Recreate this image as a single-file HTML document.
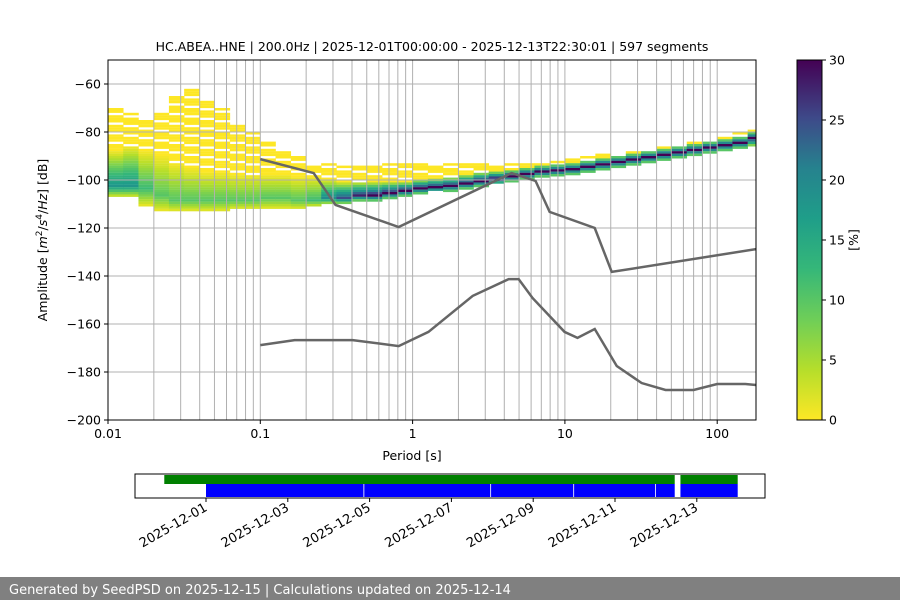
<!DOCTYPE html>
<html><head><meta charset="utf-8"><style>
body{margin:0;background:#fff;width:900px;height:600px;overflow:hidden;font-family:"DejaVu Sans","Liberation Sans",sans-serif}
svg text{font-family:"DejaVu Sans","Liberation Sans",sans-serif;fill:#000}
</style></head><body>
<svg id="chart" width="900" height="600">
<defs>
<linearGradient id="vir" x1="0" y1="1" x2="0" y2="0">
<stop offset="0" stop-color="#fde725"/><stop offset="0.14" stop-color="#b5de2b"/><stop offset="0.28" stop-color="#6ece58"/><stop offset="0.42" stop-color="#35b779"/><stop offset="0.56" stop-color="#1f9e89"/><stop offset="0.7" stop-color="#26828e"/><stop offset="0.84" stop-color="#3e4989"/><stop offset="1" stop-color="#440154"/>
</linearGradient>
<clipPath id="pc"><rect x="108" y="60" width="648" height="360"/></clipPath>
</defs>
<text x="432" y="51" font-size="12.5" text-anchor="middle">HC.ABEA..HNE | 200.0Hz | 2025-12-01T00:00:00 - 2025-12-13T22:30:01 | 597 segments</text>
<g id="heat" clip-path="url(#pc)"></g>
<g id="grid"></g>
<g id="models" clip-path="url(#pc)"></g>
<rect x="108" y="60" width="648" height="360" fill="none" stroke="#000" stroke-width="1"/>
<g id="axes"></g>
<text x="412" y="460" font-size="12.5" text-anchor="middle">Period [s]</text>
<text transform="translate(47,240) rotate(-90)" font-size="12.5" text-anchor="middle">Amplitude [<tspan font-style="italic">m</tspan><tspan font-size="9" dy="-5">2</tspan><tspan dy="5">/</tspan><tspan font-style="italic">s</tspan><tspan font-size="9" dy="-5">4</tspan><tspan dy="5">/</tspan><tspan font-style="italic">Hz</tspan>] [dB]</text>
<rect x="797" y="60" width="25" height="360" fill="url(#vir)" stroke="#000" stroke-width="1"/>
<g id="cbar"></g>
<text transform="translate(858,240) rotate(-90)" font-size="12.5" text-anchor="middle">[%]</text>
<g id="timeline"></g>
<rect x="0" y="577" width="900" height="23" fill="#808080"/>
<text x="9" y="594" font-size="13" style="fill:#fff">Generated by SeedPSD on 2025-12-15 | Calculations updated on 2025-12-14</text>
</svg>
<script>
// ---- data ----
const colLogStart = -2, colLogStep = 0.1;
const modeDb = [-102,-102,-103,-106,-108,-108,-108,-108,-108,-108,-107,-107,-108,-108,-107,-107,-106,-106,-105,-104,-103,-102.5,-102,-101,-100,-99,-98,-97,-96,-95.5,-95,-94,-93,-92,-91,-90,-89,-88,-87,-86,-85,-84,-82];
const lowDb = [-106,-106,-110,-112,-112,-112,-112,-112,-111,-111,-111,-111,-111,-110,-109,-109,-108,-108,-107,-106,-105,-104,-104,-103,-102,-101,-100,-99,-98,-97.5,-97,-96,-95,-94,-93,-92,-91,-90,-89,-88,-87,-86,-85];
const highDb = [-88,-86,-88,-90,-93,-95,-97,-97,-98,-98,-98,-98,-99,-99,-100,-101,-101,-101,-101,-101,-100,-99.5,-99,-98,-97,-96.5,-96,-95,-94,-93.5,-93,-92,-91,-90,-89,-88,-87,-86,-85,-84,-83,-82,-80];
const sparseTopDb = [-70,-72,-74,-72,-64,-62,-66,-70,-76,-80,-84,-88,-90,-93,-93,-94,-94,-94,-93,-93,-93,-93,-93,-93,-93,-93,-93,-93,-92,-92,-91,-90,-89,-89,-88,-87,-86,-85,-84,-83,-82,-80,-78];
const peakPct = [18,18,12,10,10,10,10,10,10,10,10,10,10,12,20,25,28,30,30,30,30,30,30,30,30,30,30,30,30,30,30,30,30,30,30,30,30,30,30,30,30,30,30];
const nhnmPeriod = [0.1,0.224,0.312,0.81,4.47,6.42,7.94,15.7,20.3,180];
const nhnmDb = [-91.3,-97.1,-110.4,-119.6,-97.1,-100.4,-113.3,-120,-138.3,-128.8];
const nlnmPeriod = [0.1,0.168,0.404,0.81,1.27,2.48,4.27,4.97,6.14,9.95,12.1,15.7,21.9,31.9,45.8,70,100,153,180];
const nlnmDb = [-168.8,-166.7,-166.7,-169.2,-163.3,-148.3,-141.3,-141.3,-149.2,-163.3,-165.8,-162.1,-177.5,-184.6,-187.5,-187.5,-185,-185,-185.4];
const xTicks = [0.01,0.1,1,10,100];
const xTickLabels = ["0.01","0.1","1","10","100"];
const yTicks = [-60,-80,-100,-120,-140,-160,-180,-200];
const cTicks = [0,5,10,15,20,25,30];
const dateTicks = ["2025-12-01","2025-12-03","2025-12-05","2025-12-07","2025-12-09","2025-12-11","2025-12-13"];
const greenSpans = [[-1.02,11.46],[11.6,13.0]];
const blueSpans = [[0,3.85],[3.87,6.95],[6.97,8.98],[9.0,10.98],[11.0,11.46],[11.6,13.0]];

// ---- scales ----
const NS='http://www.w3.org/2000/svg';
const X=p=>108+(Math.log10(p)+2)*152.3;
const Y=d=>60+(-50-d)*2.4;
const C=v=>420-v/30*360;
const T=day=>206+day*40.9;
function mk(tag,at,par){const e=document.createElementNS(NS,tag);for(const k in at)e.setAttribute(k,at[k]);par.appendChild(e);return e;}
const vstops=[[0,[253,231,37]],[0.14,[181,222,43]],[0.28,[110,206,88]],[0.42,[53,183,121]],[0.56,[31,158,137]],[0.7,[38,130,142]],[0.84,[62,73,137]],[1,[68,1,84]]];
function vir(t){t=Math.max(0,Math.min(1,t));for(let i=1;i<vstops.length;i++){if(t<=vstops[i][0]){const a=vstops[i-1],b=vstops[i],f=(t-a[0])/(b[0]-a[0]);return 'rgb('+a[1].map((v,j)=>Math.round(v+(b[1][j]-v)*f)).join(',')+')';}}return 'rgb(68,1,84)';}

// heatmap
const heat=document.getElementById('heat');
for(let i=0;i<modeDb.length;i++){
  const x0=X(Math.pow(10,colLogStart+colLogStep*i)), x1=X(Math.pow(10,colLogStart+colLogStep*(i+1)));
  for(let d=Math.ceil(sparseTopDb[i]);d>highDb[i];d--){
    if((i*7+d*3)%4===0)continue;
    const r=mk('rect',{x:x0,y:Y(d),width:x1-x0+0.3,height:2.5,fill:'#fde725'},heat);
    
    
  }
  for(let d=highDb[i];d>=lowDb[i];d-=1){
    const span=d>modeDb[i]?(highDb[i]-modeDb[i]+1):(modeDb[i]-lowDb[i]+1);
    const pct=peakPct[i]*Math.max(0.05,1-Math.abs(d-modeDb[i])/span);
    const r=mk('rect',{x:x0,y:Y(d),width:x1-x0+0.3,height:2.5,fill:vir(pct/30)},heat);
    
    
  }
}
// grid
const grid=document.getElementById('grid');
for(let e=-2;e<=2;e++)for(let m=1;m<=9;m++){const p=m*Math.pow(10,e);const x=X(p);if(x<=108.5||x>=756)continue;
  const l=mk('line',{x1:x,x2:x,y1:60,y2:420,stroke:'#b0b0b0','stroke-width':1},grid);
  
  }
yTicks.forEach(v=>{const l=mk('line',{x1:108,x2:756,y1:Y(v),y2:Y(v),stroke:'#b0b0b0','stroke-width':1},grid);
  
  });
// models
const models=document.getElementById('models');
function poly(ps,ds,name){const pl=mk('polyline',{points:ps.map((p,i)=>X(p)+','+Y(ds[i])).join(' '),fill:'none',stroke:'#666','stroke-width':2.5},models);
  
  }
poly(nhnmPeriod,nhnmDb,'nhnm-line');poly(nlnmPeriod,nlnmDb,'nlnm-line');
// axes ticks
const axes=document.getElementById('axes');
xTicks.forEach((p,i)=>{const x=X(p);mk('line',{x1:x,x2:x,y1:420,y2:424,stroke:'#000'},axes);
  const t=mk('text',{x:x,y:438,'font-size':12.5,'text-anchor':'middle'},axes);t.textContent=xTickLabels[i];
  
  });
yTicks.forEach(v=>{const y=Y(v);mk('line',{x1:104,x2:108,y1:y,y2:y,stroke:'#000'},axes);
  const t=mk('text',{x:101,y:y+4.5,'font-size':12.5,'text-anchor':'end'},axes);t.textContent='\u2212'+Math.abs(v);
  
  });
const cb=document.getElementById('cbar');
cTicks.forEach(v=>{const y=C(v);mk('line',{x1:822,x2:826,y1:y,y2:y,stroke:'#000'},cb);
  const t=mk('text',{x:829,y:y+4.5,'font-size':12.5},cb);t.textContent=v;
  
  });
// timeline
const tl=document.getElementById('timeline');
mk('rect',{x:135,y:474,width:630,height:24,fill:'#fff'},tl);
greenSpans.forEach(s=>{const r=mk('rect',{x:T(s[0]),y:475,width:T(s[1])-T(s[0]),height:9,fill:'#008000'},tl);
  
  });
blueSpans.forEach(s=>{const r=mk('rect',{x:T(s[0]),y:484,width:T(s[1])-T(s[0]),height:13,fill:'#0000ff'},tl);
  
  });
mk('rect',{x:135,y:474,width:630,height:24,fill:'none',stroke:'#000'},tl);
dateTicks.forEach((d,i)=>{const x=T(i*2);mk('line',{x1:x,x2:x,y1:498,y2:502,stroke:'#000'},tl);
  const t=mk('text',{transform:'translate('+(x+2)+',510) rotate(-30)','font-size':13,'text-anchor':'end'},tl);t.textContent=d;
  
  });
</script>
</body></html>
